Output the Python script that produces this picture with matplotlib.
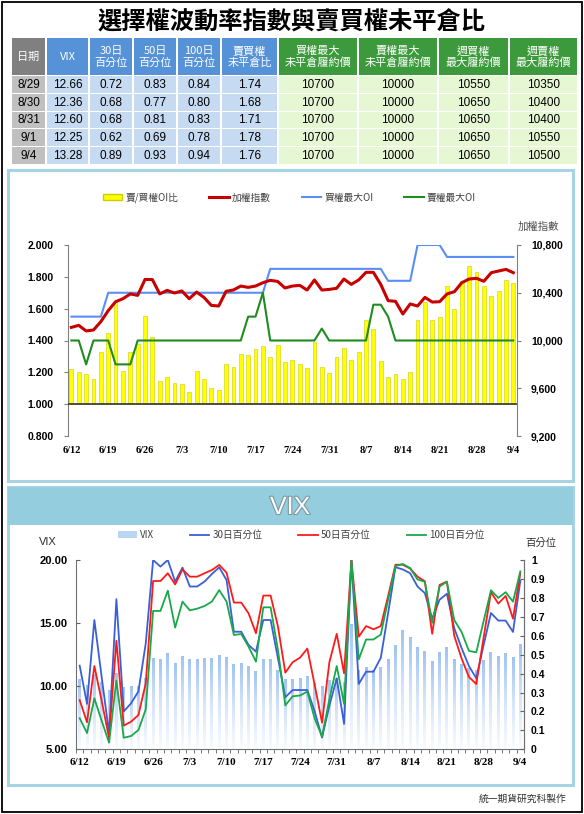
"""Options VIX and put/call OI ratio dashboard."""

import matplotlib
matplotlib.use("Agg")
import matplotlib.patheffects as pe
import matplotlib.pyplot as plt
import numpy as np
from matplotlib.colors import LinearSegmentedColormap
from matplotlib.lines import Line2D
from matplotlib.patches import Patch, Rectangle

W, H = 584, 814
CJK = ["Noto Sans CJK TC", "DejaVu Sans"]
NUM = ["Liberation Sans", "DejaVu Sans"]
SERIF = ["Liberation Serif", "DejaVu Serif"]

# ---------------------------------------------------------------- data
title = "選擇權波動率指數與賣買權未平倉比"

table_header = ["日期", "VIX", "30日\n百分位", "50日\n百分位", "100日\n百分位",
                "賣買權\n未平倉比", "買權最大\n未平倉履約價", "賣權最大\n未平倉履約價",
                "週買權\n最大履約價", "週賣權\n最大履約價"]
table_dates = ["8/29", "8/30", "8/31", "9/1", "9/4"]
table_vix = ["12.66", "12.36", "12.60", "12.25", "13.28"]
table_p30 = ["0.72", "0.68", "0.68", "0.62", "0.89"]
table_p50 = ["0.83", "0.77", "0.81", "0.69", "0.93"]
table_p100 = ["0.84", "0.80", "0.83", "0.78", "0.94"]
table_pc_ratio = ["1.74", "1.68", "1.71", "1.78", "1.76"]
table_call_max = ["10700", "10700", "10700", "10700", "10700"]
table_put_max = ["10000", "10000", "10000", "10000", "10000"]
table_wk_call = ["10550", "10650", "10650", "10650", "10650"]
table_wk_put = ["10350", "10400", "10400", "10550", "10500"]

date_ticks = ["6/12", "6/19", "6/26", "7/3", "7/10", "7/17", "7/24",
              "7/31", "8/7", "8/14", "8/21", "8/28", "9/4"]

pc_oi_ratio = [
    1.22, 1.20, 1.19, 1.16, 1.325, 1.445, 1.64, 1.21, 1.33, 1.38,
    1.555, 1.42, 1.145, 1.17, 1.13, 1.125, 1.075, 1.21, 1.16, 1.10,
    1.09, 1.255, 1.235, 1.315, 1.31, 1.345, 1.365, 1.295, 1.37, 1.265,
    1.275, 1.25, 1.226, 1.39, 1.235, 1.195, 1.295, 1.35, 1.28, 1.33,
    1.53, 1.475, 1.27, 1.17, 1.19, 1.16, 1.205, 1.53, 1.64, 1.53,
    1.55, 1.74, 1.60, 1.775, 1.865, 1.83, 1.74, 1.68, 1.71, 1.78,
    1.76,
]
taiex = [
    10110, 10127, 10080, 10088, 10158, 10250, 10325, 10350, 10390, 10378,
    10512, 10510, 10390, 10420, 10398, 10415, 10350, 10406, 10361, 10294,
    10289, 10412, 10423, 10456, 10445, 10456, 10484, 10504, 10495, 10440,
    10456, 10462, 10423, 10507, 10423, 10428, 10437, 10515, 10470, 10507,
    10571, 10571, 10470, 10334, 10328, 10222, 10306, 10289, 10361, 10322,
    10325, 10390, 10409, 10484, 10515, 10521, 10496, 10568, 10582, 10596,
    10568,
]
call_max_oi = [10200] * 5 + [10400] * 22 + [10600] * 16 + [10500] * 4 + [10800] * 4 + [10700] * 10
put_max_oi = ([10000] * 2 + [9800] + [10000] * 3 + [9800] * 3 + [10000] * 15
              + [10200] * 2 + [10400] + [10000] * 7 + [10100] + [10000] * 6
              + [10300] * 2 + [10200] + [10000] * 17)

vix = [
    10.47, 10.05, 10.9, 10.3, 9.6, 10.97, 9.85, 9.93, 9.96, 10.6,
    12.2, 12.13, 12.53, 11.81, 12.34, 12.07, 12.07, 12.17, 12.2, 12.39,
    12.29, 11.73, 11.76, 11.5, 11.15, 12.07, 12.07, 11.23, 10.47, 10.5,
    10.56, 10.73, 10.17, 9.96, 10.46, 10.55, 10.23, 14.83, 11.2, 11.42,
    11.2, 11.42, 12.13, 13.2, 14.37, 13.87, 13.03, 12.76, 11.94, 12.68,
    13.02, 12.08, 11.72, 11.4, 11.2, 12.0, 12.66, 12.36, 12.60, 12.25,
    13.28,
]
pct_30 = [
    0.442, 0.24, 0.683, 0.38, 0.085, 0.793, 0.2, 0.243, 0.306, 0.56,
    1.0, 0.965, 1.0, 0.886, 0.96, 0.86, 0.86, 0.886, 0.926, 0.961,
    0.894, 0.621, 0.621, 0.551, 0.516, 0.683, 0.683, 0.48, 0.275, 0.313,
    0.313, 0.313, 0.2, 0.062, 0.23, 0.375, 0.134, 1.0, 0.345, 0.41,
    0.41, 0.483, 0.72, 0.962, 0.95, 0.93, 0.86, 0.825, 0.69, 0.79,
    0.822, 0.64, 0.535, 0.44, 0.375, 0.55, 0.72, 0.68, 0.68, 0.62,
    0.89,
]
pct_50 = [
    0.26, 0.143, 0.44, 0.255, 0.06, 0.574, 0.125, 0.146, 0.181, 0.349,
    0.889, 0.889, 0.93, 0.871, 0.95, 0.912, 0.912, 0.93, 0.947, 0.974,
    0.933, 0.775, 0.775, 0.718, 0.613, 0.812, 0.812, 0.648, 0.405, 0.46,
    0.484, 0.532, 0.34, 0.141, 0.46, 0.61, 0.401, 1.0, 0.595, 0.651,
    0.634, 0.651, 0.81, 0.975, 0.975, 0.955, 0.912, 0.888, 0.61, 0.868,
    0.886, 0.6, 0.48, 0.382, 0.345, 0.59, 0.83, 0.77, 0.81, 0.69,
    0.93,
]
pct_100 = [
    0.164, 0.086, 0.269, 0.15, 0.035, 0.363, 0.061, 0.07, 0.102, 0.211,
    0.731, 0.731, 0.838, 0.643, 0.78, 0.734, 0.743, 0.757, 0.78, 0.841,
    0.78, 0.604, 0.609, 0.542, 0.463, 0.75, 0.75, 0.524, 0.232, 0.28,
    0.284, 0.305, 0.162, 0.068, 0.265, 0.44, 0.24, 1.0, 0.475, 0.58,
    0.58, 0.606, 0.79, 0.968, 0.979, 0.957, 0.897, 0.885, 0.668, 0.86,
    0.885, 0.683, 0.62, 0.52, 0.512, 0.677, 0.84, 0.80, 0.83, 0.78,
    0.94,
]


def frac(x0, y0, x1, y1):
    """Pixel box (top-left origin) to figure fraction rect."""
    return [x0 / W, 1 - y1 / H, (x1 - x0) / W, (y1 - y0) / H]


fig = plt.figure(figsize=(W / 100, H / 100), dpi=100)
fig.patch.set_facecolor("white")

bg = fig.add_axes([0, 0, 1, 1])
bg.set_xlim(0, W)
bg.set_ylim(H, 0)
bg.axis("off")

# ---------------------------------------------------------------- title + table
bg.text(292, 22, title, ha="center", va="center", fontsize=17.5,
        fontweight="bold", family=CJK, color="black")

col_edges = [11, 46, 89, 133, 177, 221, 278, 358, 438, 509, 578]
head_top, head_bot = 38, 75
row_h = 17.8
columns = [table_dates, table_vix, table_p30, table_p50, table_p100,
           table_pc_ratio, table_call_max, table_put_max, table_wk_call,
           table_wk_put]
head_colors = ["#808080"] + ["#5592d8"] * 5 + ["#3c9a3c"] * 4
cell_colors = ["#c0c0c0"] + ["#c6daf2"] * 5 + ["#e6f7d4"] * 4

for c, (label, vals) in enumerate(zip(table_header, columns)):
    x0, x1 = col_edges[c], col_edges[c + 1]
    bg.add_patch(Rectangle((x0 + 0.6, head_top), x1 - x0 - 1.2,
                           head_bot - head_top, facecolor=head_colors[c],
                           edgecolor="none"))
    bg.text((x0 + x1) / 2, (head_top + head_bot) / 2 + 0.5, label,
            ha="center", va="center", color="white", fontsize=8,
            family=CJK, linespacing=1.15)
    for r, v in enumerate(vals):
        y0 = head_bot + 1 + r * row_h
        bg.add_patch(Rectangle((x0 + 0.6, y0), x1 - x0 - 1.2, row_h - 1.0,
                               facecolor=cell_colors[c], edgecolor="none"))
        bg.text((x0 + x1) / 2, y0 + row_h / 2 - 0.2, v, ha="center",
                va="center", fontsize=8.5, family=NUM, color="black")

# ---------------------------------------------------------------- panels
panel_edge = "#a6d4e4"
bg.add_patch(Rectangle((8, 170), 565, 311, facecolor="white",
                       edgecolor=panel_edge, lw=2.2))
bg.add_patch(Rectangle((8, 487), 565, 298, facecolor="white",
                       edgecolor=panel_edge, lw=2.2))
bg.add_patch(Rectangle((8, 487), 565, 38, facecolor="#94cddd",
                       edgecolor="none"))
bg.text(290, 507, "VIX", ha="center", va="center", fontsize=18,
        color="white", family=NUM,
        path_effects=[pe.withStroke(linewidth=1.6, foreground="#7a98a6")])
bg.text(566, 799, "統一期貨研究科製作", ha="right", va="center",
        fontsize=7, family=CJK, color="#303030")
bg.add_patch(Rectangle((1.5, 1.5), 580.5, 810.5, fill=False,
                       edgecolor="black", lw=1.3))

x = np.arange(len(pc_oi_ratio))
tick_pos = np.arange(0, len(x), 5)

# ---------------------------------------------------------------- top chart
ax1 = fig.add_axes(frac(67.7, 245, 517, 436))
ax1.patch.set_alpha(0)
ax1.bar(x, np.asarray(pc_oi_ratio) - 1.0, bottom=1.0, width=0.52,
        color="#ffff00", edgecolor="#cccc00", linewidth=0.4, zorder=2)
ax1.axhline(1.0, color="#404040", lw=1.3, zorder=3)
ax1.set_xlim(-0.5, 60.5)
ax1.set_ylim(0.8, 2.0)
yt = np.arange(0.8, 2.01, 0.2)
ax1.set_yticks(yt)
ax1.set_yticklabels([f"{v:.3f}" for v in yt], fontsize=7.5,
                    fontweight="bold", family=NUM)
ax1.set_xticks(tick_pos)
ax1.set_xticklabels(date_ticks, fontsize=7.5, fontweight="bold",
                    family=SERIF)
ax1.tick_params(axis="x", length=0, pad=7)
ax1.tick_params(axis="y", direction="out", length=3, color="#808080", pad=7)
for s in ["top", "bottom", "right"]:
    ax1.spines[s].set_visible(False)
ax1.spines["left"].set_color("#808080")

axr = ax1.twinx()
axr.plot(x, call_max_oi, color="#5b8ef4", lw=1.5, zorder=3)
axr.plot(x, put_max_oi, color="#1f8c1f", lw=1.5, zorder=3)
axr.plot(x, taiex, color="#c80000", lw=2.2, zorder=4)
axr.set_ylim(9200, 10800)
rt = np.arange(9200, 10801, 400)
axr.set_yticks(rt)
axr.set_yticklabels([f"{v:,}" for v in rt], fontsize=7.5,
                    fontweight="bold", family=NUM)
axr.tick_params(axis="y", direction="out", length=3, color="#808080", pad=7)
for s in ["top", "bottom", "left"]:
    axr.spines[s].set_visible(False)
axr.spines["right"].set_color("#808080")
axr.text(1.047, 1.094, "加權指數", transform=axr.transAxes, ha="center",
         va="center", fontsize=7.5, family=CJK, color="#505050")

top_handles = [
    Patch(facecolor="#ffff00", edgecolor="#cccc00"),
    Line2D([], [], color="#c80000", lw=2.2),
    Line2D([], [], color="#5b8ef4", lw=1.5),
    Line2D([], [], color="#1f8c1f", lw=1.5),
]
fig.legend(top_handles, ["賣/買權OI比", "加權指數", "買權最大OI", "賣權最大OI"],
           loc="center", bbox_to_anchor=(289.5 / W, 1 - 198 / H), ncol=4,
           frameon=False, prop={"family": CJK, "size": 7},
           labelcolor="#404040", handlelength=2.0, handleheight=0.6,
           handletextpad=0.3, columnspacing=3.2)

# ---------------------------------------------------------------- VIX chart
ax2 = fig.add_axes(frac(76, 560, 524, 749.3))
ax2.patch.set_alpha(0)
vix_cmap = LinearSegmentedColormap.from_list(
    "vixbar", ["#f8fbff", "#d6e5f9", "#a0c4f2"])
grad = np.linspace(0, 1, 64).reshape(-1, 1)
for i, v in zip(x, vix):
    ax2.imshow(grad, extent=(i - 0.2, i + 0.2, 5, v), aspect="auto",
               origin="lower", cmap=vix_cmap, zorder=1,
               interpolation="bilinear")
ax2.set_xlim(-0.5, 60.5)
ax2.set_ylim(5, 20)
ax2.set_yticks([5, 10, 15, 20])
ax2.set_yticklabels([f"{v:.2f}" for v in [5, 10, 15, 20]], fontsize=8,
                    fontweight="bold", family=NUM)
ax2.set_xticks(tick_pos)
ax2.set_xticklabels(date_ticks, fontsize=8, fontweight="bold", family=SERIF)
ax2.set_xticks(np.arange(-0.5, 61, 1), minor=True)
ax2.tick_params(axis="x", which="major", length=0, pad=6)
ax2.tick_params(axis="x", which="minor", length=3, direction="out",
                color="#606060")
ax2.tick_params(axis="y", direction="in", length=3, color="#606060", pad=6)
ax2.spines["top"].set_visible(False)
for s in ["left", "bottom", "right"]:
    ax2.spines[s].set_color("#707070")
ax2.text(-0.0625, 1.095, "VIX", transform=ax2.transAxes, ha="center",
         va="center", fontsize=8, family=NUM, color="#303030")

axp = ax2.twinx()
axp.plot(x, pct_30, color="#3a5fd9", lw=1.3)
axp.plot(x, pct_50, color="#ff1a1a", lw=1.3)
axp.plot(x, pct_100, color="#19a84a", lw=1.3)
axp.set_ylim(0, 1)
pt = np.round(np.arange(0, 1.01, 0.1), 1)
axp.set_yticks(pt)
axp.set_yticklabels([f"{v:g}" for v in pt], fontsize=7.5, fontweight="bold",
                    family=NUM)
axp.tick_params(axis="y", direction="in", length=3, color="#606060", pad=5)
for s in ["top", "left", "bottom"]:
    axp.spines[s].set_visible(False)
axp.spines["right"].set_color("#707070")
axp.text(1.038, 1.09, "百分位", transform=axp.transAxes, ha="center",
         va="center", fontsize=7.5, family=CJK, color="#303030")

vix_handles = [
    Patch(facecolor="#bcd5f5", edgecolor="none"),
    Line2D([], [], color="#3a5fd9", lw=1.3),
    Line2D([], [], color="#ff1a1a", lw=1.3),
    Line2D([], [], color="#19a84a", lw=1.3),
]
fig.legend(vix_handles, ["VIX", "30日百分位", "50日百分位", "100日百分位"],
           loc="center", bbox_to_anchor=(301 / W, 1 - 535 / H), ncol=4,
           frameon=False, prop={"family": CJK, "size": 7},
           labelcolor="#404040", handlelength=2.0, handleheight=0.6,
           handletextpad=0.3, columnspacing=3.7)

fig.savefig("out.png", dpi=100)
